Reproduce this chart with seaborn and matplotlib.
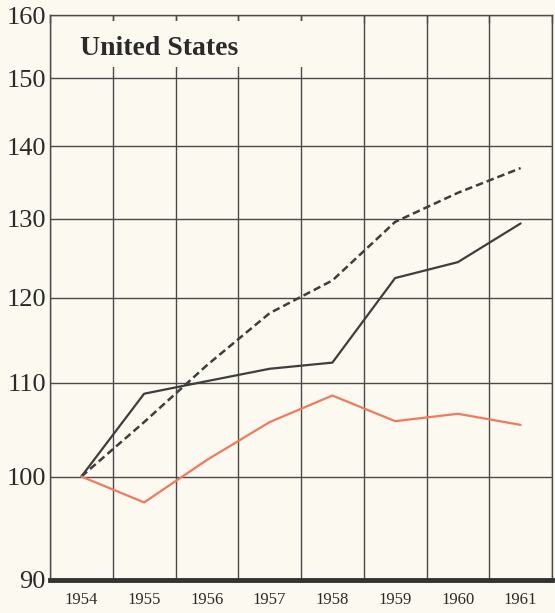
import matplotlib
matplotlib.use("Agg")
import matplotlib.pyplot as plt
import matplotlib.ticker as mticker
import matplotlib.patches as mpatches
import numpy as np
import pandas as pd
import seaborn as sns

# data (index, 1954 = 100, log scale)
years = [1954, 1955, 1956, 1957, 1958, 1959, 1960, 1961]
solid = [100, 108.8, 110.2, 111.6, 112.3, 122.4, 124.4, 129.4]
dashed = [100, 105.7, 112.0, 118.1, 122.1, 129.6, 133.5, 136.9]
orange = [100, 97.4, 101.7, 105.7, 108.6, 105.8, 106.6, 105.4]
yticks = [90, 100, 110, 120, 130, 140, 150, 160]

bg = "#fbf9f0"
grid_col = "#4a4a4a"

sns.set_theme(style="white")
plt.rcParams["font.family"] = ["Liberation Serif", "DejaVu Serif"]

fig = plt.figure(figsize=(5.55, 6.13), dpi=100, facecolor=bg)
ax = fig.add_axes([50 / 555, 1 - 580 / 613, 502 / 555, 565 / 613])
ax.set_facecolor(bg)

df = pd.DataFrame({"year": years, "solid": solid, "dashed": dashed, "orange": orange})
sns.lineplot(data=df, x="year", y="solid", ax=ax, color="#3e3e3e", lw=1.6, zorder=3)
sns.lineplot(data=df, x="year", y="dashed", ax=ax, color="#3e3e3e", lw=1.8,
             linestyle=(0, (3, 1.6)), zorder=3)
sns.lineplot(data=df, x="year", y="orange", ax=ax, color="#f2795a", lw=1.6, zorder=3)

ax.set_yscale("log")
ax.set_ylim(90, 160)
ax.set_xlim(1953.5, 1961.5)
ax.yaxis.set_major_locator(mticker.FixedLocator(yticks))
ax.yaxis.set_major_formatter(mticker.FixedFormatter([str(t) for t in yticks]))
ax.yaxis.set_minor_locator(mticker.NullLocator())
ax.set_xticks(years)
ax.set_xticklabels([str(y) for y in years])
ax.xaxis.set_minor_locator(mticker.FixedLocator(np.arange(1953.5, 1962, 1.0)))

ax.grid(False)
ax.grid(True, which="minor", axis="x", color=grid_col, lw=1.0)
ax.grid(True, which="major", axis="y", color=grid_col, lw=1.0)
ax.set_axisbelow(True)

ax.tick_params(axis="y", which="major", length=0, pad=3, labelsize=19, labelcolor="#2a2a2a")
ax.tick_params(axis="x", which="major", length=0, pad=9, labelsize=12, labelcolor="#2a2a2a")
ax.tick_params(axis="x", which="minor", top=True, bottom=False, direction="in",
               length=6, width=1.0, color=grid_col)

for side in ["top", "right", "left"]:
    ax.spines[side].set_color(grid_col)
    ax.spines[side].set_linewidth(1.0)
ax.spines["bottom"].set_color("#333333")
ax.spines["bottom"].set_linewidth(3.5)

ax.set_xlabel("")
ax.set_ylabel("")

# box behind the title that hides the grid
box = mpatches.Rectangle((0.003, 0.908), 0.505, 0.082, transform=ax.transAxes,
                         facecolor=bg, edgecolor="none", zorder=1)
ax.add_patch(box)
ax.text(0.06, 0.94, "United States", transform=ax.transAxes, fontsize=20,
        fontweight="bold", color="#2a2a2a", va="center", ha="left", zorder=4)

fig.savefig("out.png", dpi=100, facecolor=bg)
